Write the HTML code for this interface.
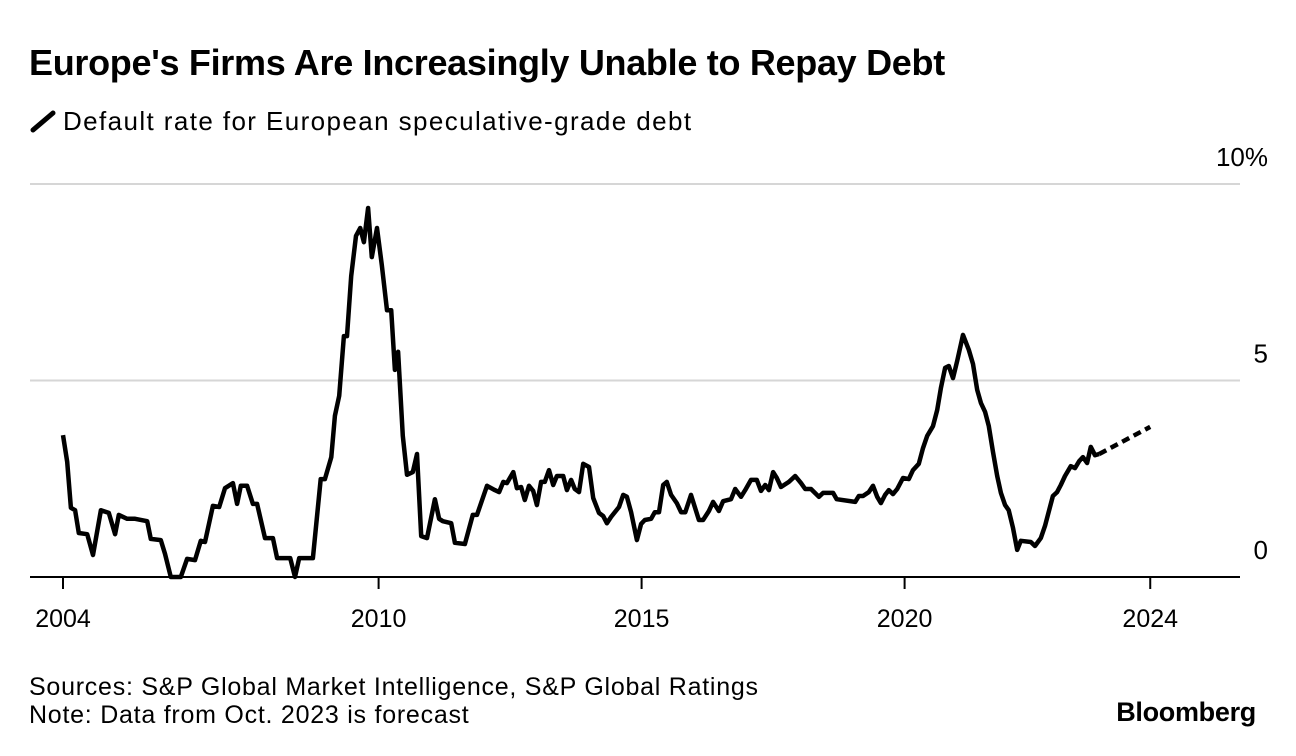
<!DOCTYPE html>
<html><head><meta charset="utf-8"><style>
html,body{margin:0;padding:0;background:#fff;}
body{width:1296px;height:756px;overflow:hidden;font-family:"Liberation Sans",sans-serif;color:#000;position:relative;}
.t{position:absolute;white-space:nowrap;}
</style></head><body>
<div class="t" style="left:29px;top:42px;font-size:36px;font-weight:bold;letter-spacing:-0.3px;">Europe's Firms Are Increasingly Unable to Repay Debt</div>
<div class="t" style="left:29px;top:106px;font-size:26px;letter-spacing:1.4px;">
<svg width="28" height="24" style="vertical-align:-3px;margin-right:6px"><line x1="4" y1="21" x2="24" y2="4" stroke="#000" stroke-width="5" stroke-linecap="round"/></svg>Default rate for European speculative-grade debt</div>
<svg id="chart" width="1296" height="650" style="position:absolute;left:0;top:0"></svg>
<div class="t" style="left:29px;top:673px;font-size:25px;letter-spacing:0.75px;">Sources: S&amp;P Global Market Intelligence, S&amp;P Global Ratings</div>
<div class="t" style="left:29px;top:701px;font-size:25px;letter-spacing:0.75px;">Note: Data from Oct. 2023 is forecast</div>
<div class="t" style="right:40px;top:697px;font-size:27px;font-weight:bold;letter-spacing:-0.3px;">Bloomberg</div>
<script>
const baseYear = 2004;
const yearOffset = [0,.08,.15,.23,.30,.46,.57,.72,.87,.99,1.06,1.22,1.37,1.60,1.67,1.86,1.94,2.05,2.24,2.36,2.51,2.62,2.70,2.85,2.97,3.08,3.23,3.31,3.38,3.50,3.61,3.69,3.84,3.99,4.07,4.32,4.41,4.49,4.75,4.90,4.98,5.10,5.17,5.25,5.34,5.40,5.48,5.57,5.65,5.72,5.80,5.87,5.97,6.06,6.16,6.24,6.31,6.37,6.46,6.54,6.65,6.73,6.81,6.92,7.07,7.15,7.22,7.38,7.45,7.64,7.79,7.87,8.06,8.21,8.29,8.37,8.44,8.56,8.63,8.71,8.78,8.86,8.94,9.01,9.09,9.16,9.24,9.32,9.39,9.51,9.58,9.66,9.73,9.81,9.89,10.0,10.08,10.19,10.27,10.34,10.42,10.57,10.65,10.72,10.80,10.91,10.99,11.06,11.18,11.25,11.33,11.41,11.48,11.56,11.67,11.75,11.83,11.94,12.09,12.17,12.28,12.36,12.47,12.55,12.70,12.78,12.89,12.97,13.08,13.19,13.27,13.35,13.42,13.50,13.57,13.65,13.80,13.92,14.03,14.11,14.22,14.37,14.45,14.64,14.71,15.06,15.13,15.21,15.32,15.40,15.48,15.55,15.63,15.70,15.78,15.86,15.97,16.08,16.16,16.27,16.35,16.43,16.54,16.62,16.69,16.77,16.84,16.92,17.00,17.11,17.22,17.30,17.38,17.45,17.53,17.60,17.68,17.76,17.83,17.91,17.98,18.06,18.14,18.21,18.40,18.48,18.59,18.67,18.82,18.90,18.97,19.05,19.16,19.24,19.32,19.39,19.47,19.54,19.62,19.70];
const rates = [3.61,2.93,1.76,1.70,1.12,1.09,.56,1.70,1.63,1.09,1.58,1.48,1.48,1.42,.97,.94,.59,0,0,.46,.43,.92,.89,1.81,1.78,2.26,2.39,1.86,2.32,2.32,1.86,1.86,.99,.99,.48,.48,0,.48,.48,2.49,2.49,3.05,4.10,4.61,6.13,6.13,7.66,8.68,8.88,8.52,9.39,8.14,8.88,7.94,6.79,6.79,5.27,5.73,3.59,2.60,2.67,3.13,1.04,.99,1.98,1.48,1.42,1.37,.87,.84,1.58,1.58,2.32,2.21,2.16,2.42,2.39,2.67,2.26,2.29,1.96,2.32,2.19,1.83,2.42,2.42,2.72,2.34,2.57,2.57,2.21,2.47,2.24,2.16,2.88,2.80,2.01,1.63,1.55,1.37,1.53,1.78,2.09,2.04,1.65,.94,1.35,1.45,1.48,1.65,1.65,2.34,2.42,2.09,1.88,1.65,1.65,2.09,1.45,1.45,1.68,1.91,1.68,1.93,1.98,2.24,2.04,2.21,2.47,2.47,2.19,2.34,2.21,2.67,2.52,2.29,2.42,2.57,2.39,2.24,2.24,2.04,2.14,2.14,1.98,1.91,2.06,2.06,2.16,2.32,2.04,1.88,2.09,2.21,2.11,2.24,2.52,2.49,2.72,2.88,3.28,3.59,3.84,4.25,4.81,5.32,5.37,5.06,5.50,6.16,5.78,5.42,4.76,4.43,4.20,3.84,3.18,2.57,2.14,1.83,1.70,1.25,.69,.92,.89,.79,.99,1.30,2.06,2.16,2.34,2.57,2.82,2.77,2.95,3.05,2.90,3.31,3.10,3.13];
const forecastOffset = [19.70, 20.67];
const forecastRates = [3.13, 3.82];
const xTickValues = [2004, 2010, 2015, 2020, 2024.67];
const xTickLabels = ["2004","2010","2015","2020","2024"];
const yTickValues = [0, 5, 10];
const yTickLabels = ["0","5","10%"];

const NS = "http://www.w3.org/2000/svg";
const svg = document.getElementById('chart');
const x = yr => 63 + (yr - 2004) * 52.6;
const y = v => 577 - v * 39.3;
function mk(tag, attrs){const e=document.createElementNS(NS,tag);for(const k in attrs)e.setAttribute(k,attrs[k]);svg.appendChild(e);return e;}

yTickValues.forEach((v,i)=>{
  if(v>0){const g=mk('line',{x1:30,x2:1240,y1:y(v),y2:y(v),stroke:'#d6d6d6','stroke-width':2});
  
  }
  const t=mk('text',{x:1268,y:y(v)-18,'text-anchor':'end','font-size':26,'font-family':'Liberation Sans, sans-serif'});
  t.textContent=yTickLabels[i];
  
  
});
const base=mk('line',{x1:30,x2:1240,y1:y(0),y2:y(0),stroke:'#000','stroke-width':2});


xTickValues.forEach((v,i)=>{
  const tk=mk('line',{x1:x(v),x2:x(v),y1:y(0),y2:y(0)+12,stroke:'#000','stroke-width':2});
  
  
  const t=mk('text',{x:x(v),y:627,'text-anchor':'middle','font-size':25,'font-family':'Liberation Sans, sans-serif'});
  t.textContent=xTickLabels[i];
  
  
});
const pts=yearOffset.map((o,i)=>x(baseYear+o).toFixed(1)+','+y(rates[i]).toFixed(1)).join(' ');
const line=mk('polyline',{points:pts,fill:'none',stroke:'#000','stroke-width':4.5,'stroke-linejoin':'round'});


const fpts=forecastOffset.map((o,i)=>x(baseYear+o).toFixed(1)+','+y(forecastRates[i]).toFixed(1)).join(' ');
const fl=mk('polyline',{points:fpts,fill:'none',stroke:'#000','stroke-width':4.5,'stroke-dasharray':'8 5'});


</script>
</body></html>
